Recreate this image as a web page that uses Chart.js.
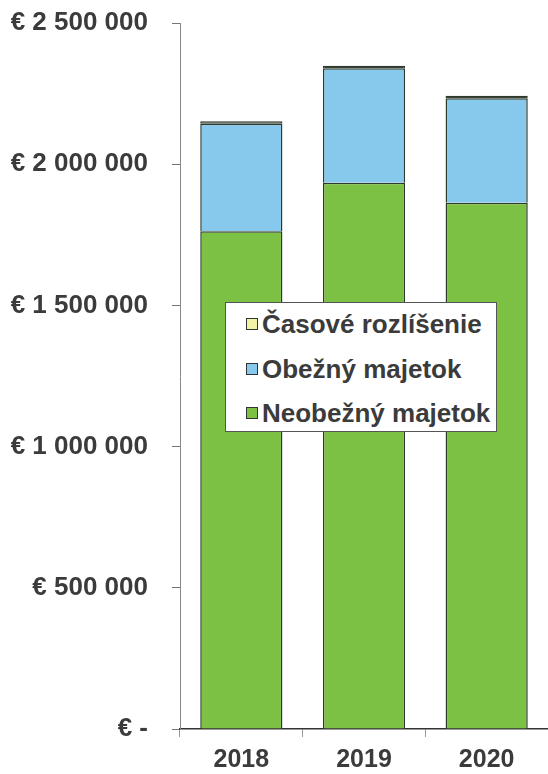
<!DOCTYPE html>
<html>
<head>
<meta charset="utf-8">
<script src="https://cdn.jsdelivr.net/npm/chart.js@4/dist/chart.umd.min.js"></script>
<style>
  html, body { margin: 0; padding: 0; background: #ffffff; }
  #wrap { position: relative; width: 548px; height: 774px; overflow: hidden; }
  #legend {
    position: absolute; left: 225px; top: 302px; width: 270px; height: 128px;
    background: #ffffff; border: 1px solid #555; box-sizing: content-box;
    font-family: "Liberation Sans", Arial, sans-serif; font-weight: bold; font-size: 26px; color: #3b3b3b;
  }
  .item { position: absolute; left: 20px; height: 30px; line-height: 30px; white-space: nowrap; }
  .sw { display: inline-block; width: 10px; height: 10px; border: 1px solid #333; margin-right: 4px; vertical-align: middle; position: relative; top: -2px; }
</style>
</head>
<body>
<div id="wrap">
  <canvas id="c" width="548" height="774"></canvas>
  <div id="legend"></div>
</div>
<script>
const categories = ["2018", "2019", "2020"];
const neobeznyMajetok = [1762800, 1934400, 1863700];
const obeznyMajetok = [380200, 405200, 369700];
const casoveRozlisenie = [9000, 9000, 9000];
const seriesNames = ["Neobežný majetok", "Obežný majetok", "Časové rozlíšenie"];
const tickValues = [0, 500000, 1000000, 1500000, 2000000, 2500000];
const tickLabels = ["€ -", "€ 500 000", "€ 1 000 000", "€ 1 500 000", "€ 2 000 000", "€ 2 500 000"];

const colors = ["#7cc143", "#86c9ec", "#f3f3a6"];
const textColor = "#3b3b3b";
const fontFamily = "'Liberation Sans', Arial, sans-serif";

const chart = new Chart(document.getElementById("c"), {
  type: "bar",
  data: {
    labels: categories,
    datasets: [
      { label: seriesNames[0], data: neobeznyMajetok, backgroundColor: colors[0], borderColor: "#2c3a2c", borderWidth: 1.5 },
      { label: seriesNames[1], data: obeznyMajetok, backgroundColor: colors[1], borderColor: "#2c3a2c", borderWidth: 1.5 },
      { label: seriesNames[2], data: casoveRozlisenie, backgroundColor: "#3a4038", borderColor: "#2c3a2c", borderWidth: 1.5 }
    ]
  },
  options: {
    responsive: false,
    animation: false,
    layout: { padding: { top: 23, right: 0, bottom: 0, left: 0 } },
    plugins: { legend: { display: false }, tooltip: { enabled: false } },
    datasets: { bar: { categoryPercentage: 1.0, barPercentage: 0.67 } },
    scales: {
      x: {
        stacked: true,
        afterFit: (s) => { s.height = 45; s.paddingLeft = 0; s.paddingRight = 0; },
        grid: { display: true, offset: true, drawOnChartArea: false, tickLength: 8, color: "#999" },
        border: { display: true, color: "#333", width: 1.5 },
        ticks: { color: textColor, padding: 8, font: { family: fontFamily, size: 25, weight: "bold" } }
      },
      y: {
        stacked: true,
        min: 0,
        max: 2500000,
        afterFit: (s) => { s.width = 180; s.paddingTop = 0; s.paddingBottom = 0; },
        afterBuildTicks: (s) => { s.ticks = tickValues.map(v => ({ value: v })); },
        grid: { display: true, drawOnChartArea: false, tickLength: 8, color: "#777" },
        border: { display: true, color: "#888", width: 1 },
        ticks: {
          color: textColor, padding: 24,
          font: { family: fontFamily, size: 26, weight: "bold" },
          callback: (v) => { const i = tickValues.indexOf(v); return i >= 0 ? tickLabels[i] : ""; }
        }
      }
    }
  }
});

// HTML legend built from datasets (top of stack first)
const legend = document.getElementById("legend");
const rowTops = [6, 51, 95];
const legendSwatch = [colors[2], colors[1], colors[0]];
chart.data.datasets.slice().reverse().forEach((ds, i) => {
  const d = document.createElement("div");
  d.className = "item";
  d.style.top = rowTops[i] + "px";
  const sw = document.createElement("span");
  sw.className = "sw";
  sw.style.background = legendSwatch[i];
  d.appendChild(sw);
  d.appendChild(document.createTextNode(ds.label));
  legend.appendChild(d);
});
</script>
</body>
</html>
